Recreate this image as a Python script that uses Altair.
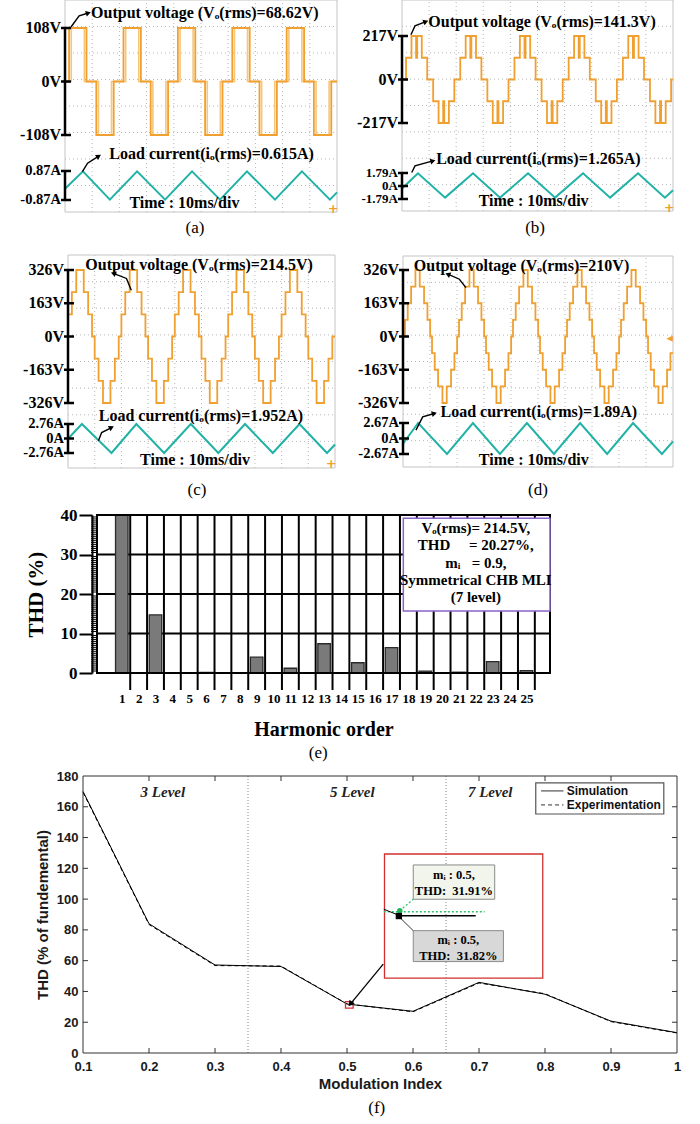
import math
import altair as alt
import pandas as pd

SERIF = "Liberation Serif"
SANS = "Liberation Sans"
ORANGE = "#f0a030"
ORANGE_LIGHT = "#f7c67a"
TEAL = "#20b2a6"
GRIDC = "#b8b8b8"
CHART_W, CHART_H = 700, 1124

# ---------------- scope panels (a)-(d) : values ----------------
a_levels = [108]
a_alpha = [1.8]
a_alpha_ghost = [2.6]     # second (persistence) trace visible in (a)
a_t0 = -0.3
b_levels = [108.5, 217]
b_alpha = [1.1, 3.1]
b_t0 = 0.4
b_notch = 0.2
c_levels = [108.7, 217.3, 326]
c_alpha = [0.5, 1.95, 3.6]
c_t0 = -0.5
d_levels = [81.5, 163, 244.5, 326]
d_alpha = [0.35, 1.35, 2.6, 4.2]
d_t0 = 0.4

a_it = [0, 6.6, 16.5, 26.5, 36.8, 46.7, 57.0, 66.9, 77.2, 87.1, 97.4, 100]
a_iv = [-0.2, 0.85, -0.85, 0.85, -0.85, 0.85, -0.85, 0.85, -0.85, 0.85, -0.85, -0.41]
b_it = [0, 5.9, 15.9, 26.2, 36.2, 46.5, 56.5, 66.8, 76.8, 87.1, 97.0, 100]
b_iv = [-0.35, 1.75, -1.6, 1.75, -1.6, 1.75, -1.6, 1.75, -1.6, 1.75, -1.6, -0.58]
c_it = [0, 5.2, 16.3, 25.6, 36.0, 46.0, 56.3, 66.3, 76.7, 86.7, 97.0, 100]
c_iv = [-0.05, 2.76, -2.76, 2.76, -2.76, 2.76, -2.76, 2.76, -2.76, 2.76, -2.76, -1.14]
d_it = [0, 5.6, 16.3, 25.9, 35.9, 45.9, 55.9, 65.6, 75.6, 85.2, 95.9, 100]
d_iv = [-0.9, 2.67, -2.67, 2.67, -2.67, 2.67, -2.67, 2.67, -2.67, 2.67, -2.67, -0.5]

a_vticks = [108, 0, -108]
b_vticks = [217, 0, -217]
c_vticks = [326, 163, 0, -163, -326]
d_vticks = [326, 163, 0, -163, -326]
a_iticks = [0.87, -0.87]
b_iticks = [1.79, 0, -1.79]
c_iticks = [2.76, 0, -2.76]
d_iticks = [2.67, 0, -2.67]

a_text = ["Output voltage (Vₒ(rms)=68.62V)", "Load current(iₒ(rms)=0.615A)", "Time : 10ms/div"]
b_text = ["Output voltage (Vₒ(rms)=141.3V)", "Load current(iₒ(rms)=1.265A)", "Time : 10ms/div"]
c_text = ["Output voltage (Vₒ(rms)=214.5V)", "Load current(iₒ(rms)=1.952A)", "Time : 10ms/div"]
d_text = ["Output voltage (Vₒ(rms)=210V)", "Load current(iₒ(rms)=1.89A)", "Time : 10ms/div"]

# ---------------- (e) harmonic spectrum ----------------
e_harm = list(range(1, 26))
e_thd = [100, 0, 14.7, 0, 0, 0.15, 0, 0, 4.0, 0, 1.2, 0, 7.4, 0, 2.6, 0, 6.4, 0, 0.5, 0, 0.2, 0, 2.9, 0, 0.6]
e_box = ["Vₒ(rms)= 214.5V,", "THD\u00a0\u00a0\u00a0\u00a0 = 20.27%,", "mᵢ\u00a0\u00a0 = 0.9,",
         "Symmetrical CHB MLI", "(7 level)"]

# ---------------- (f) THD vs modulation index ----------------
f_mi = [0.1, 0.2, 0.3, 0.4, 0.5, 0.6, 0.7, 0.8, 0.9, 1.0]
f_sim = [170.0, 84.0, 57.2, 56.2, 31.82, 27.1, 45.9, 38.2, 20.7, 13.2]
f_exp = [169.4, 83.5, 56.8, 56.5, 31.91, 26.8, 45.5, 38.5, 20.4, 13.0]
f_levels = ["3 Level", "5 Level", "7 Level"]
f_level_x = [0.221, 0.508, 0.717]
f_bounds = [0.35, 0.65]


def staircase(levels, alpha, t0, notch=0.0, period=20.0, tmax=100.0):
    half = period / 2
    k = len(levels)
    ev = []
    for p in range(-1, int(tmax / period) + 2):
        base = t0 + p * period
        for sign, off in ((1, 0.0), (-1, half)):
            s = base + off
            for j in range(k):
                ev.append((s + alpha[j], sign * levels[j]))
            if notch:
                ev.append((s + half / 2 - notch, sign * levels[k - 2]))
                ev.append((s + half / 2 + notch, sign * levels[k - 1]))
            for j in range(k - 1, -1, -1):
                ev.append((s + half - alpha[j], sign * (levels[j - 1] if j > 0 else 0)))
    ev.sort()
    pts, cur = [], 0
    for t, v in ev:
        if t <= 0:
            cur = v
            continue
        if t >= tmax:
            break
        if not pts:
            pts.append((0.0, cur))
        pts.append((t, v))
    pts.append((tmax, pts[-1][1]))
    return pts


def arrow_layers(arrows, xs, ys, pxx, pxy, xax=None, yax=None, color="black", width=1.4, size=40):
    rows, heads = [], []
    for g, pts in enumerate(arrows):
        for o, (x, y) in enumerate(pts):
            rows.append({"x": x, "y": y, "g": g, "o": o})
        (xm, ym), (xh, yh) = pts[-2], pts[-1]
        ang = math.degrees(math.atan2((xh - xm) * pxx, (yh - ym) * pxy)) % 360
        heads.append({"x": xh, "y": yh, "a": ang})
    line = alt.Chart(pd.DataFrame(rows)).mark_line(color=color, strokeWidth=width).encode(
        x=alt.X("x:Q", scale=xs, axis=xax), y=alt.Y("y:Q", scale=ys, axis=yax),
        detail="g:N", order="o:Q")
    head = alt.Chart(pd.DataFrame(heads)).mark_point(shape="triangle-up", filled=True, color=color,
                                                     size=size, opacity=1).encode(
        x=alt.X("x:Q", scale=xs, axis=xax), y=alt.Y("y:Q", scale=ys, axis=yax),
        angle=alt.Angle("a:Q", scale=None))
    return [line, head]


def lin(domain, rng):
    return alt.Scale(domain=domain, range=rng, nice=False, zero=False)


def scope_panel(frame, vpts, it, iv, vmax, vticks, vtop, vbot, imax, iticks, itop, ibot,
                texts, text_pos, arrows, caption, cap_pos, marker, ghost=None, ifont=14.5):
    x0, x1, y0, y1 = frame
    H = y1 - y0
    vpp = 2 * vmax / (vbot - vtop)
    vdom = [-vmax - (H - vbot) * vpp, vmax + vtop * vpp]
    ipp = 2 * imax / (ibot - itop)
    idom = [-imax - (H - ibot) * ipp, imax + itop * ipp]
    xs = lin([0, 100], [x0, x1])
    ds = lin([0, 8], [y1, y0])
    vs = lin(vdom, [y1, y0])
    iscale = lin(idom, [y1, y0])

    gx = alt.Chart(pd.DataFrame({"t": [10, 20, 30, 40, 50, 60, 70, 80, 90], "a": 0, "b": 8})).mark_rule(
        color=GRIDC, strokeDash=[1, 3], strokeWidth=1).encode(
        x=alt.X("t:Q", scale=xs, axis=None), y=alt.Y("a:Q", scale=ds, axis=None), y2="b:Q")
    gy = alt.Chart(pd.DataFrame({"d": [1, 2, 3, 4, 5, 6, 7], "a": 0, "b": 100})).mark_rule(
        color=GRIDC, strokeDash=[1, 3], strokeWidth=1).encode(
        y=alt.Y("d:Q", scale=ds, axis=None), x=alt.X("a:Q", scale=xs, axis=None), x2="b:Q")
    frm = alt.Chart(pd.DataFrame({"a": [0], "b": [100], "c": [0], "e": [8]})).mark_rect(
        fill="transparent", stroke="#c4c4c4", strokeWidth=1).encode(
        x=alt.X("a:Q", scale=xs, axis=None), x2="b:Q", y=alt.Y("c:Q", scale=ds, axis=None), y2="e:Q")
    grid = alt.layer(gx, gy, frm)

    vlayers = []
    if ghost is not None:
        gdf = pd.DataFrame(ghost, columns=["t", "v"])
        vlayers.append(alt.Chart(gdf).mark_line(interpolate="step-after", color=ORANGE_LIGHT,
                                                strokeWidth=1.6).encode(
            x=alt.X("t:Q", scale=xs, axis=None), y=alt.Y("v:Q", scale=vs, axis=None)))
    vdf = pd.DataFrame(vpts, columns=["t", "v"])
    vlayers.append(alt.Chart(vdf).mark_line(interpolate="step-after", color=ORANGE, strokeWidth=1.8).encode(
        x=alt.X("t:Q", scale=xs, axis=None), y=alt.Y("v:Q", scale=vs, axis=None)))
    vax = alt.Chart(pd.DataFrame({"z": [0], "v": [vmax], "v2": [-vmax]})).mark_rule(
        color="black", strokeWidth=2.5).encode(
        x=alt.X("z:Q", scale=xs, axis=None), y=alt.Y("v:Q", scale=vs, axis=None), y2="v2:Q")
    vtdf = pd.DataFrame({"z": 0, "v": vticks, "s": [f"{v}V" for v in vticks]})
    vtk = alt.Chart(vtdf).mark_rule(color="black", strokeWidth=2.5, xOffset=-4, x2Offset=6).encode(
        x=alt.X("z:Q", scale=xs, axis=None), x2="z:Q", y=alt.Y("v:Q", scale=vs, axis=None))
    vlb = alt.Chart(vtdf).mark_text(align="right", baseline="middle", font=SERIF, fontSize=16,
                                    fontWeight="bold", color="black", dx=-4).encode(
        x=alt.X("z:Q", scale=xs, axis=None), y=alt.Y("v:Q", scale=vs, axis=None), text="s:N")
    volt = alt.layer(*vlayers, vax, vtk, vlb)

    idf = pd.DataFrame({"t": it, "i": iv})
    iline = alt.Chart(idf).mark_line(color=TEAL, strokeWidth=2).encode(
        x=alt.X("t:Q", scale=xs, axis=None), y=alt.Y("i:Q", scale=iscale, axis=None))
    iax = alt.Chart(pd.DataFrame({"z": [0], "i": [imax], "i2": [-imax]})).mark_rule(
        color="black", strokeWidth=2.5).encode(
        x=alt.X("z:Q", scale=xs, axis=None), y=alt.Y("i:Q", scale=iscale, axis=None), y2="i2:Q")
    itdf = pd.DataFrame({"z": 0, "i": iticks, "s": [f"{v:g}A" for v in iticks]})
    itk = alt.Chart(itdf).mark_rule(color="black", strokeWidth=2.5, xOffset=-4, x2Offset=6).encode(
        x=alt.X("z:Q", scale=xs, axis=None), x2="z:Q", y=alt.Y("i:Q", scale=iscale, axis=None))
    ilb = alt.Chart(itdf).mark_text(align="right", baseline="middle", font=SERIF, fontSize=ifont,
                                    fontWeight="bold", color="black", dx=-4).encode(
        x=alt.X("z:Q", scale=xs, axis=None), y=alt.Y("i:Q", scale=iscale, axis=None), text="s:N")
    cur = alt.layer(iline, iax, itk, ilb)

    tdf = pd.DataFrame({"t": [p[0] for p in text_pos], "d": [p[1] for p in text_pos], "s": texts})
    txt = alt.Chart(tdf).mark_text(align="left", baseline="middle", font=SERIF, fontSize=16,
                                   fontWeight="bold", color="black").encode(
        x=alt.X("t:Q", scale=xs, axis=None), y=alt.Y("d:Q", scale=ds, axis=None), text="s:N")
    cap = alt.Chart(pd.DataFrame({"t": [cap_pos[0]], "d": [cap_pos[1]], "s": [caption]})).mark_text(
        align="center", baseline="middle", font=SERIF, fontSize=17, color="black").encode(
        x=alt.X("t:Q", scale=xs, axis=None), y=alt.Y("d:Q", scale=ds, axis=None), text="s:N")
    mk = alt.Chart(pd.DataFrame({"t": [marker[0]], "d": [marker[1]], "s": [marker[2]]})).mark_text(
        align="center", baseline="middle", font="DejaVu Sans", fontSize=13, fontWeight="bold",
        color=ORANGE).encode(
        x=alt.X("t:Q", scale=xs, axis=None), y=alt.Y("d:Q", scale=ds, axis=None), text="s:N")
    ann = alt.layer(*arrow_layers(arrows, xs, ds, (x1 - x0) / 100.0, H / 8.0, size=35), txt, cap, mk)

    return alt.layer(grid, volt, cur, ann).resolve_scale(y="independent")


pa = scope_panel((65, 337, 0, 212), staircase(a_levels, a_alpha, a_t0), a_it, a_iv, 108, a_vticks, 28, 135,
                 0.87, a_iticks, 171, 200, a_text,
                 [(9.6, 7.51), (16.3, 2.19), (23.7, 0.34)],
                 [[(2.2, 6.98), (5.2, 7.40), (8.6, 7.51)], [(6.4, 1.52), (8.3, 1.84), (12.4, 2.11)]],
                 "(a)", (47.8, -0.6), (98.6, 0.12, "+"),
                 ghost=staircase(a_levels, a_alpha_ghost, a_t0))
pb = scope_panel((402, 673, 0, 211), staircase(b_levels, b_alpha, b_t0, notch=b_notch), b_it, b_iv, 217,
                 b_vticks, 36, 123, 1.79, b_iticks, 173, 199, b_text,
                 [(9.7, 7.18), (12.6, 1.96), (28.3, 0.37)],
                 [[(3.3, 6.68), (4.8, 7.02), (8.8, 7.18)], [(3.6, 1.46), (4.8, 1.71), (11.4, 1.90)]],
                 "(b)", (49.1, -0.64), (98.6, 0.12, "+"), ifont=13)
pc = scope_panel((68, 335, 255, 468), staircase(c_levels, c_alpha, c_t0), c_it, c_iv, 326, c_vticks, 15, 148,
                 2.76, c_iticks, 169, 198, c_text,
                 [(6.5, 7.62), (11.5, 1.96), (27.0, 0.29)],
                 [[(23.7, 6.68), (21.9, 7.12), (17.0, 7.31)], [(11.4, 1.02), (12.6, 1.33), (16.3, 1.52)]],
                 "(c)", (48.3, -0.83), (98.6, 0.15, "+"))
pd_ = scope_panel((403, 673, 256, 467), staircase(d_levels, d_alpha, d_t0), d_it, d_iv, 326, d_vticks, 14, 147,
                  2.67, d_iticks, 167, 198, d_text,
                  [(4.0, 7.62), (13.9, 2.09), (28.1, 0.26)],
                  [[(23.3, 6.80), (20.9, 7.12), (16.6, 7.31)], [(4.8, 1.40), (7.3, 1.90), (11.6, 2.03)]],
                  "(d)", (50.0, -0.86), (98.8, 4.9, "◂"))

# ---------------- panel (e) ----------------
EX0, EX1, EY0, EY1 = 92, 555, 515, 673
ex = lin([-0.47, 26.4], [EX0, EX1])
ey = lin([0, 40], [EY1, EY0])
e_xax = alt.Axis(
    orient="bottom", offset=EY1 - CHART_H,
    values=e_harm, labelFont=SERIF, labelFontSize=13, labelFontWeight="bold", labelColor="black",
    labelPadding=19, ticks=False, domain=False, grid=False, labelOverlap=False, labelFlush=False,
    title="Harmonic order", titleFont=SERIF, titleFontSize=20, titleFontWeight="bold",
    titleColor="black", titlePadding=14)
e_yax = alt.Axis(
    orient="left", offset=-EX0,
    values=[0, 10, 20, 30, 40], labelFont=SERIF, labelFontSize=17, labelFontWeight="bold",
    labelColor="black", labelPadding=2, tickSize=13, tickWidth=2, tickColor="black",
    domain=True, domainColor="black", domainWidth=2, grid=False,
    labelFlush=False, title="THD (%)", titleFont=SERIF, titleFontSize=21, titleFontWeight="bold",
    titleColor="black", titlePadding=14)


def EX(f):
    return alt.X(f, scale=ex, axis=e_xax)


def EY(f):
    return alt.Y(f, scale=ey, axis=e_yax)


edf = pd.DataFrame({"h": e_harm, "thd": e_thd})
e_frame = alt.Chart(pd.DataFrame({"a": [-0.47], "b": [26.4], "c": [0], "d": [40]})).mark_rect(
    fill="transparent", stroke="black", strokeWidth=2).encode(x=EX("a:Q"), x2="b:Q", y=EY("c:Q"), y2="d:Q")
e_grid = alt.Chart(pd.DataFrame({"g": [10, 20, 30], "a": -0.47, "b": 26.4})).mark_rule(
    color="black", strokeWidth=2).encode(y=EY("g:Q"), x=EX("a:Q"), x2="b:Q")
e_sep = alt.Chart(pd.DataFrame({"s": [h + 0.5 for h in e_harm], "a": 40, "b": -4.3})).mark_rule(
    color="black", strokeWidth=2).encode(x=EX("s:Q"), y=EY("a:Q"), y2="b:Q")
# the fundamental (100 %) is cut at the top of the 0-40 % frame, as in the original
e_bars = alt.Chart(edf).transform_filter("datum.thd > 0").transform_calculate(
    shown="min(datum.thd, 40)").mark_bar(
    size=12.5, color="#7a7a7a", stroke="#2a2a2a", strokeWidth=1.3).encode(x=EX("h:Q"), y=EY("shown:Q"))
e_minor = alt.Chart(pd.DataFrame({"m": [k * 0.5 for k in range(1, 80) if k % 20], "z": -0.47})).mark_rule(
    color="black", strokeWidth=1, xOffset=-6, x2Offset=0).encode(x=EX("z:Q"), x2="z:Q", y=EY("m:Q"))
e_rect = alt.Chart(pd.DataFrame({"x1": [17.7], "x2": [26.4], "y1": [39.2], "y2": [15.7]})).mark_rect(
    fill="white", stroke="#8c63c6", strokeWidth=1.5).encode(x=EX("x1:Q"), x2="x2:Q", y=EY("y1:Q"), y2="y2:Q")
e_txt = alt.Chart(pd.DataFrame({"x": [22.0] * 5, "y": [36.7, 32.4, 27.8, 23.5, 19.2], "s": e_box})).mark_text(
    align="center", baseline="middle", font=SERIF, fontSize=15, fontWeight="bold", color="black").encode(
    x=EX("x:Q"), y=EY("y:Q"), text="s:N")
e_cap = alt.Chart(pd.DataFrame({"x": [12.65], "y": [-20.3], "s": ["(e)"]})).mark_text(
    align="center", baseline="middle", font=SERIF, fontSize=17, color="black").encode(
    x=EX("x:Q"), y=EY("y:Q"), text="s:N")
pe = alt.layer(e_grid, e_sep, e_bars, e_minor, e_frame, e_rect, e_txt, e_cap)

# ---------------- panel (f) ----------------
FX0, FX1, FY0, FY1 = 83, 677, 776, 1053
fx = lin([0.1, 1.0], [FX0, FX1])
fy = lin([0, 180], [FY1, FY0])
PXX = (FX1 - FX0) / 0.9
PXY = (FY1 - FY0) / 180.0
f_xax = alt.Axis(
    orient="bottom", offset=FY1 - CHART_H,
    values=f_mi, format="~g", labelFont=SANS, labelFontSize=13, labelFontWeight="bold",
    labelColor="#1a1a1a", labelPadding=7, ticks=False, domain=False, grid=False, labelFlush=False,
    title="Modulation Index", titleFont=SANS, titleFontSize=15, titleFontWeight="bold",
    titleColor="#1a1a1a", titlePadding=3)
f_yax = alt.Axis(
    orient="left", offset=-FX0,
    values=list(range(0, 181, 20)), labelFont=SANS, labelFontSize=13, labelFontWeight="bold",
    labelColor="#1a1a1a", labelPadding=5, ticks=False, domain=False, grid=False, labelFlush=False,
    title="THD (% of fundemental)", titleFont=SANS, titleFontSize=15, titleFontWeight="bold",
    titleColor="#1a1a1a", titlePadding=6)


def FXc(f):
    return alt.X(f, scale=fx, axis=f_xax)


def FYc(f):
    return alt.Y(f, scale=fy, axis=f_yax)


fdf = pd.DataFrame({"m": f_mi * 2, "thd": f_sim + f_exp,
                    "src": ["Simulation"] * len(f_mi) + ["Experimentation"] * len(f_mi)})
f_frame = alt.Chart(pd.DataFrame({"a": [0.1], "b": [1.0], "c": [0], "d": [180]})).mark_rect(
    fill="transparent", stroke="#333", strokeWidth=1).encode(x=FXc("a:Q"), x2="b:Q", y=FYc("c:Q"), y2="d:Q")
f_vl = alt.Chart(pd.DataFrame({"b": f_bounds, "y0": 0, "y1": 180})).mark_rule(
    color="#888888", strokeDash=[1, 2], strokeWidth=1).encode(x=FXc("b:Q"), y=FYc("y0:Q"), y2="y1:Q")
f_sim_l = alt.Chart(fdf).transform_filter("datum.src == 'Simulation'").mark_line(
    color="black", strokeWidth=1).encode(x=FXc("m:Q"), y=FYc("thd:Q"))
f_exp_l = alt.Chart(fdf).transform_filter("datum.src == 'Experimentation'").mark_line(
    color="black", strokeWidth=1, strokeDash=[4, 3]).encode(x=FXc("m:Q"), y=FYc("thd:Q"))
ytk = pd.DataFrame({"v": list(range(20, 180, 20)), "l": 0.1, "r": 1.0})
xtk = pd.DataFrame({"v": f_mi[1:-1], "b": 0, "t": 180})
f_ticks = [
    alt.Chart(xtk).mark_rule(color="#333", y2Offset=-5).encode(x=FXc("v:Q"), y=FYc("b:Q"), y2="b:Q"),
    alt.Chart(xtk).mark_rule(color="#333", y2Offset=5).encode(x=FXc("v:Q"), y=FYc("t:Q"), y2="t:Q"),
    alt.Chart(ytk).mark_rule(color="#333", x2Offset=5).encode(y=FYc("v:Q"), x=FXc("l:Q"), x2="l:Q"),
    alt.Chart(ytk).mark_rule(color="#333", x2Offset=-5).encode(y=FYc("v:Q"), x=FXc("r:Q"), x2="r:Q"),
]
f_lvl = alt.Chart(pd.DataFrame({"x": f_level_x, "y": [169.3] * 3, "s": f_levels})).mark_text(
    align="center", baseline="middle", font=SERIF, fontSize=15, fontWeight="bold", fontStyle="italic",
    color="#222").encode(x=FXc("x:Q"), y=FYc("y:Q"), text="s:N")
f_leg_box = alt.Chart(pd.DataFrame({"x1": [0.786], "x2": [0.980], "y1": [175.5], "y2": [155.3]})).mark_rect(
    fill="white", stroke="#555", strokeWidth=1.2).encode(x=FXc("x1:Q"), x2="x2:Q", y=FYc("y1:Q"), y2="y2:Q")
f_leg_s = alt.Chart(pd.DataFrame({"x1": [0.794], "x2": [0.828], "y": [170.3]})).mark_rule(
    color="#333", strokeWidth=1).encode(x=FXc("x1:Q"), x2="x2:Q", y=FYc("y:Q"))
f_leg_e = alt.Chart(pd.DataFrame({"x1": [0.794], "x2": [0.828], "y": [161.2]})).mark_rule(
    color="#333", strokeWidth=1, strokeDash=[4, 3]).encode(x=FXc("x1:Q"), x2="x2:Q", y=FYc("y:Q"))
f_leg_t = alt.Chart(pd.DataFrame({"x": [0.833, 0.833], "y": [170.3, 161.2],
                                  "s": ["Simulation", "Experimentation"]})).mark_text(
    align="left", baseline="middle", font=SANS, fontSize=12, fontWeight="bold", color="#111").encode(
    x=FXc("x:Q"), y=FYc("y:Q"), text="s:N")
f_red = alt.Chart(pd.DataFrame({"x1": [0.5568, 0.4977], "x2": [0.7966, 0.5093],
                                "y1": [129.3, 33.4], "y2": [48.7, 29.1]})).mark_rect(
    fill="transparent", stroke="#d23030", strokeWidth=1.3).encode(x=FXc("x1:Q"), x2="x2:Q", y=FYc("y1:Q"), y2="y2:Q")
f_boxes = alt.Chart(pd.DataFrame({"x1": [0.6004, 0.6004], "x2": [0.7238, 0.737], "y1": [122.2, 79.5],
                                  "y2": [99.9, 59.4], "c": ["#f1f5eb", "#d8d8d8"]})).mark_rect(
    stroke="#8a8a8a", strokeWidth=1).encode(
    x=FXc("x1:Q"), x2="x2:Q", y=FYc("y1:Q"), y2="y2:Q", fill=alt.Fill("c:N", scale=None))
f_box_t = alt.Chart(pd.DataFrame({"x": [0.662, 0.662, 0.6687, 0.6687], "y": [115.7, 105.5, 73.4, 63.2],
                                  "s": ["mᵢ : 0.5,", "THD:\u00a0 31.91%", "mᵢ : 0.5,", "THD:\u00a0 31.82%"]})).mark_text(
    align="center", baseline="middle", font=SERIF, fontSize=12.5, fontWeight="bold", color="black").encode(
    x=FXc("x:Q"), y=FYc("y:Q"), text="s:N")
f_green = alt.Chart(pd.DataFrame({"x1": [0.5558, 0.580], "x2": [0.7086, 0.6004],
                                  "y1": [91.8, 92.5], "y2": [91.8, 99.9]})).mark_rule(
    color="#2ec46c", strokeWidth=1.3, strokeDash=[2, 2]).encode(x=FXc("x1:Q"), x2="x2:Q", y=FYc("y1:Q"), y2="y2:Q")
f_black = alt.Chart(pd.DataFrame({"x1": [0.5786, 0.5558, 0.5786], "x2": [0.6950, 0.5786, 0.6004],
                                  "y1": [89.2, 93.4, 88.6], "y2": [89.2, 89.5, 79.5],
                                  "w": [1.6, 1.0, 0.8]})).mark_rule(color="black").encode(
    x=FXc("x1:Q"), x2="x2:Q", y=FYc("y1:Q"), y2="y2:Q", strokeWidth=alt.StrokeWidth("w:Q", scale=None))
f_dot = alt.Chart(pd.DataFrame({"x": [0.580], "y": [92.5]})).mark_point(
    shape="circle", filled=True, color="#22b35a", size=30, opacity=1).encode(x=FXc("x:Q"), y=FYc("y:Q"))
f_sq = alt.Chart(pd.DataFrame({"x": [0.5786], "y": [89.0]})).mark_point(
    shape="square", filled=True, color="black", size=40, opacity=1).encode(x=FXc("x:Q"), y=FYc("y:Q"))
f_arrow = arrow_layers([[(0.5549, 57.8), (0.505, 31.8)]], fx, fy, PXX, PXY, xax=f_xax, yax=f_yax,
                       width=1.3, size=45)
f_cap = alt.Chart(pd.DataFrame({"x": [0.545], "y": [-35.7], "s": ["(f)"]})).mark_text(
    align="center", baseline="middle", font=SERIF, fontSize=17, color="black").encode(
    x=FXc("x:Q"), y=FYc("y:Q"), text="s:N")

pf = alt.layer(f_vl, f_sim_l, f_exp_l, *f_ticks, f_frame, f_lvl, f_leg_box, f_leg_s, f_leg_e, f_leg_t,
               f_red, f_boxes, f_box_t, f_green, f_black, f_dot, f_sq, *f_arrow, f_cap)

chart = alt.layer(pa, pb, pc, pd_, pe, pf).resolve_scale(x="independent", y="independent").properties(
    width=CHART_W, height=CHART_H,
    autosize=alt.AutoSizeParams(type="none"),
    padding={"left": 0, "top": 0, "right": 0, "bottom": 0},
    background="white",
).configure_view(stroke="transparent")

chart.save("out.html", embed_options={"renderer": "svg", "actions": False})
